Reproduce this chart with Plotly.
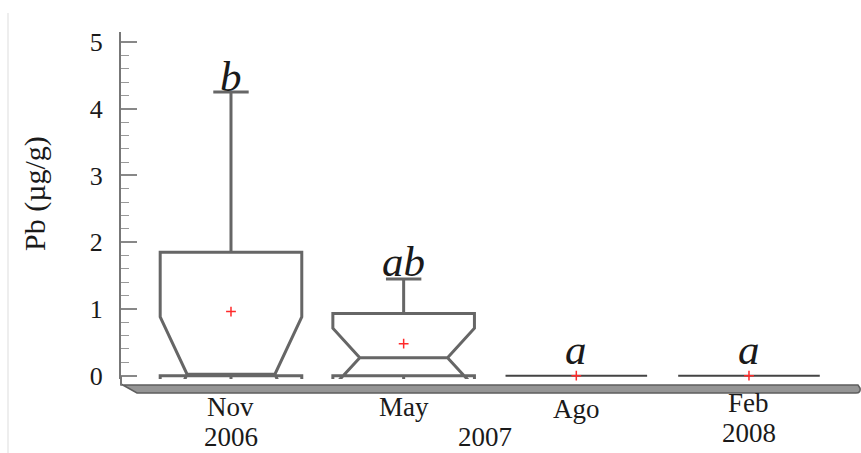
import plotly.graph_objects as go

# Pb concentration by sampling campaign (precomputed box statistics)
months = ["Nov", "May", "Ago", "Feb"]
years = ["2006", "2007", "", "2008"]
q1 = [0.0, 0.0, 0.0, 0.0]
median = [0.02, 0.27, 0.0, 0.0]
q3 = [1.85, 0.93, 0.0, 0.0]
lower_fence = [0.0, 0.0, 0.0, 0.0]
upper_fence = [4.25, 1.45, 0.0, 0.0]
notch_span = [0.86, 0.44, 0.0, 0.0]
means = [0.96, 0.48, 0.0, 0.0]
groups = ["b", "ab", "a", "a"]
y_ticks = [0, 1, 2, 3, 4, 5]

W, H = 861, 453
ML, MR, MT, MB = 121, 1, 32, 74
Y0, Y1 = -0.05, 5.15
SERIF = "Liberation Serif, Times New Roman, serif"

def py(p):
    """pixel row -> paper y"""
    return (H - MB - p) / (H - MT - MB)

def px(p):
    """pixel column -> paper x"""
    return (p - ML) / (W - ML - MR)

fig = go.Figure()

for i, m in enumerate(months):
    notched = notch_span[i] > 0
    box = dict(
        x=[i], q1=[q1[i]], median=[median[i]], q3=[q3[i]],
        lowerfence=[lower_fence[i]], upperfence=[upper_fence[i]],
        boxpoints=False, width=0.82, whiskerwidth=0.25,
        fillcolor="rgba(0,0,0,0)",
        line=dict(color="#666666" if notched else "#444444", width=3 if notched else 2),
        showlegend=False, hoverinfo="skip",
    )
    if notched:
        box.update(notched=True, notchspan=[notch_span[i]], notchwidth=0.19)
    fig.add_trace(go.Box(**box))

# mean markers
fig.add_trace(go.Scatter(
    x=list(range(len(months))), y=means, mode="markers",
    marker=dict(symbol="cross-thin", size=7, line=dict(color="#ff2a2a", width=1.5)),
    showlegend=False, hoverinfo="skip", cliponaxis=False,
))

annotations = []
# significance letters above each box
letter_shift = [-10, -8, 1, 1]
for i, g in enumerate(groups):
    annotations.append(dict(
        x=i, y=upper_fence[i], xref="x", yref="y", text=f"<i>{g}</i>",
        showarrow=False, xanchor="center", yanchor="bottom", yshift=letter_shift[i],
        font=dict(family=SERIF, size=43, color="#1a1a1a"),
    ))

# category labels
label_font = dict(family=SERIF, size=27, color="#1a1a1a")
def label(x, row, text):
    return dict(x=x, y=py(row), text=text, xref="x", yref="paper",
                xanchor="center", yanchor="middle", borderpad=0,
                showarrow=False, font=label_font)

annotations += [
    label(0, 407, "Nov"), label(0, 437, "2006"),
    label(1, 407, "May"), label(1.47, 437, "2007"),
    label(2, 409, "Ago"),
    label(3, 403, "Feb"), label(3, 433, "2008"),
]
# y-axis title
annotations.append(dict(
    x=px(35), y=py(194), xref="paper", yref="paper", text="Pb (µg/g)",
    xanchor="center", yanchor="middle", textangle=-90, showarrow=False,
    font=dict(family=SERIF, size=30, color="#1a1a1a"),
))

shapes = [
    # floor slab under the boxes
    dict(type="path", xref="paper", yref="paper",
         path=(f"M {px(121)},{py(384)} L {px(137)},{py(393)} L {px(856)},{py(393)} "
               f"Q {px(861)},{py(393)} {px(860)},{py(388)} L {px(858)},{py(385)} "
               f"L {px(121)},{py(385)} Z"),
         fillcolor="#959595", line=dict(color="#5e5e5e", width=1.5), layer="above"),
    # axis extension down to the floor
    dict(type="line", xref="paper", yref="paper", x0=px(121), x1=px(121),
         y0=py(376), y1=py(385), line=dict(color="#777777", width=2)),
    # faint frame on the left
    dict(type="line", xref="paper", yref="paper", x0=px(8), x1=px(8),
         y0=py(13), y1=py(453), line=dict(color="#dddddd", width=1)),
]

fig.update_layout(
    width=W, height=H, margin=dict(l=ML, r=MR, t=MT, b=MB),
    paper_bgcolor="white", plot_bgcolor="white",
    annotations=annotations, shapes=shapes,
    xaxis=dict(range=[-0.637, 3.643], showticklabels=False, showgrid=False,
               zeroline=False, showline=False, ticks=""),
    yaxis=dict(range=[Y0, Y1], tickvals=y_ticks, showgrid=False, zeroline=False,
               showline=True, linecolor="#777777", linewidth=2,
               ticks="inside", ticklen=16, tickwidth=1.5, tickcolor="#888888",
               ticklabelstandoff=11,
               tickfont=dict(family=SERIF, size=26, color="#1a1a1a"),
               minor=dict(dtick=0.2, ticks="inside", ticklen=8, tickwidth=1,
                          tickcolor="#999999")),
)

fig.write_html("out.html")
